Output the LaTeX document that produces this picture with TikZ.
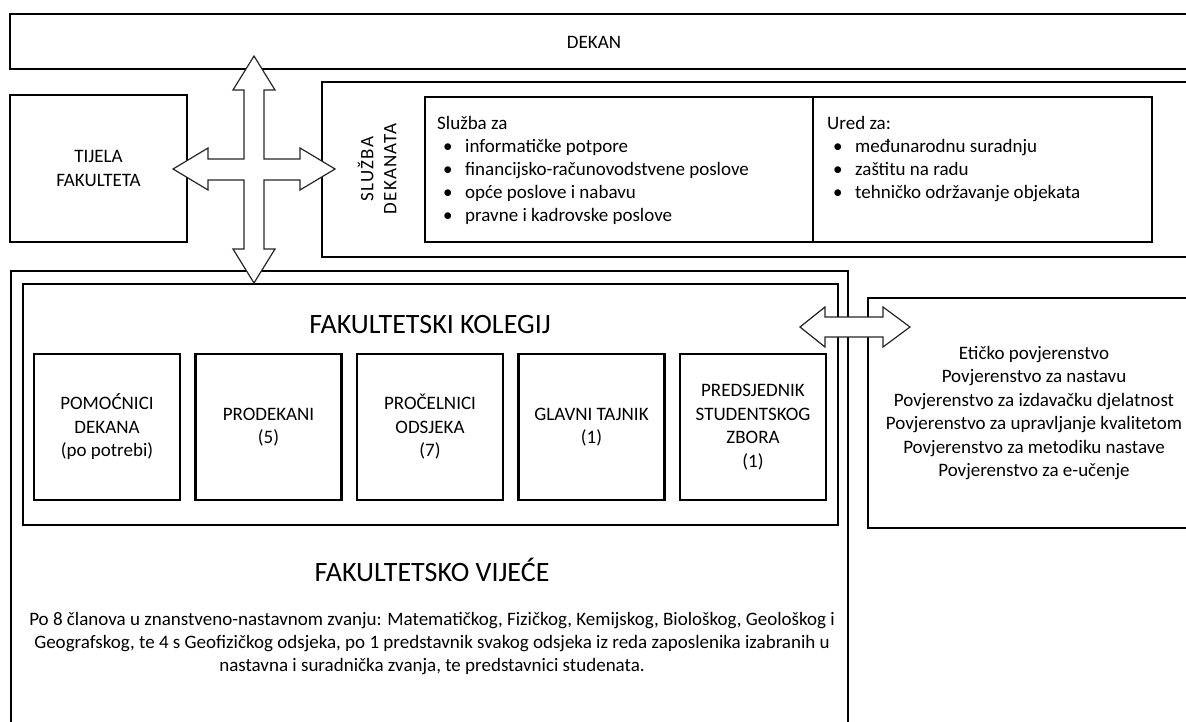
\documentclass[tikz,border=0pt]{standalone}
\usepackage{fontspec}
\setmainfont{Carlito}
\usetikzlibrary{positioning,calc}
\newcommand{\bul}{\hspace*{6pt}\makebox[22pt][l]{\textbullet}}

\begin{document}
\begin{tikzpicture}[x=1pt,y=-1pt,
  box/.style={draw, line width=2.5pt, inner sep=0pt, outer sep=0pt, align=center, font=\fontsize{19}{23.5}\selectfont},
  txt/.style={inner sep=0pt, font=\fontsize{19}{23}\selectfont},
  title/.style={inner sep=0pt, font=\fontsize{28}{32}\selectfont},
  member/.style={box, minimum width=146pt, minimum height=146pt},
  blk/.style={draw=black!85, line width=1.2pt, fill=white, line join=miter}
]
  \useasboundingbox (0,0) rectangle (1186,722);
  % upper part
  \node[box, minimum width=1190pt, minimum height=55pt] (dekan) at (605,41.5) {};
  \node[txt] (dekanlbl) at (594,42) {DEKAN};
  \node[box, minimum width=177pt, minimum height=147pt] (tijela) at (98.5,168.5) {TIJELA\\FAKULTETA};
  \node[box, minimum width=878pt, minimum height=175pt] (sluzba) at (761,169.5) {};
  \node[txt, rotate=90, align=center] (sluzbalbl) at (377,169) {\addfontfeature{LetterSpace=6}SLUŽBA\\\addfontfeature{LetterSpace=6}DEKANATA};
  \node[box, minimum width=388pt, minimum height=145pt] (sluzbaza) at (619,169.5) {};
  \node[box, minimum width=339pt, minimum height=145pt] (ured) at (982.5,169.5) {};
  \node[txt, align=left, anchor=north west] (sluzbalist) at (437,116)
    {Služba za\\\bul informatičke potpore\\\bul financijsko-računovodstvene poslove\\
     \bul opće poslove i nabavu\\\bul pravne i kadrovske poslove};
  \node[txt, align=left, anchor=north west] (uredlist) at (827,116)
    {Ured za:\\\bul međunarodnu suradnju\\\bul zaštitu na radu\\\bul tehničko održavanje objekata};

  % lower part
  \node[box, minimum width=837pt, minimum height=469pt] (vijece) at (429.5,505.5) {};
  \node[box, line width=2.2pt, minimum width=815pt, minimum height=241pt] (kolegij) at (430.5,404.5) {};
  \node[box, minimum width=332pt, minimum height=230pt] (povjerenstva) at (1034,413)
    {Etičko povjerenstvo\\Povjerenstvo za nastavu\\Povjerenstvo za izdavačku djelatnost\\
     Povjerenstvo za upravljanje kvalitetom\\Povjerenstvo za metodiku nastave\\Povjerenstvo za e-učenje};
  \node[title] (kolegijlbl) at (430,325) {FAKULTETSKI KOLEGIJ};
  \node[member] (pomocnici) at (107,427) {POMOĆNICI\\DEKANA\\(po potrebi)};
  \node[member, right=15.5pt of pomocnici] (prodekani) {PRODEKANI\\(5)};
  \node[member, right=15.5pt of prodekani] (procelnici) {PROČELNICI\\ODSJEKA\\(7)};
  \node[member, right=15.5pt of procelnici] (tajnik) {GLAVNI TAJNIK\\(1)};
  \node[member, right=15.5pt of tajnik] (predsjednik) {PREDSJEDNIK\\STUDENTSKOG\\ZBORA\\(1)};
  \node[title] (vijecelbl) at (432,570) {FAKULTETSKO VIJEĆE};
  \node[txt, align=center] (vijecetxt) at (432,644)
    {Po 8 članova u znanstveno-nastavnom zvanju: Matematičkog, Fizičkog, Kemijskog, Biološkog, Geološkog i\\
     Geografskog, te 4 s Geofizičkog odsjeka, po 1 predstavnik svakog odsjeka iz reda zaposlenika izabranih u\\
     nastavna i suradnička zvanja, te predstavnici studenata.};

  % block arrows
  \coordinate (hub) at (254,169);
  \draw[blk] (hub) ++(0,-113) -- ++(21,34) -- ++(-11,0) -- ++(0,69) -- ++(36,0) -- ++(0,-11)
    -- ++(35,21) -- ++(-35,21) -- ++(0,-10) -- ++(-36,0) -- ++(0,69) -- ++(11,0)
    -- ++(-21,34) -- ++(-21,-34) -- ++(11,0) -- ++(0,-69) -- ++(-36,0) -- ++(0,10)
    -- ++(-35,-21) -- ++(35,-21) -- ++(0,11) -- ++(36,0) -- ++(0,-69) -- ++(-11,0) -- cycle;
  \coordinate (link) at (855,327);
  \draw[blk] (link) ++(-55,0) -- ++(25,-20) -- ++(0,10) -- ++(58,0) -- ++(0,-10) -- ++(27,20)
    -- ++(-27,20) -- ++(0,-10) -- ++(-58,0) -- ++(0,10) -- cycle;
\end{tikzpicture}
\end{document}
